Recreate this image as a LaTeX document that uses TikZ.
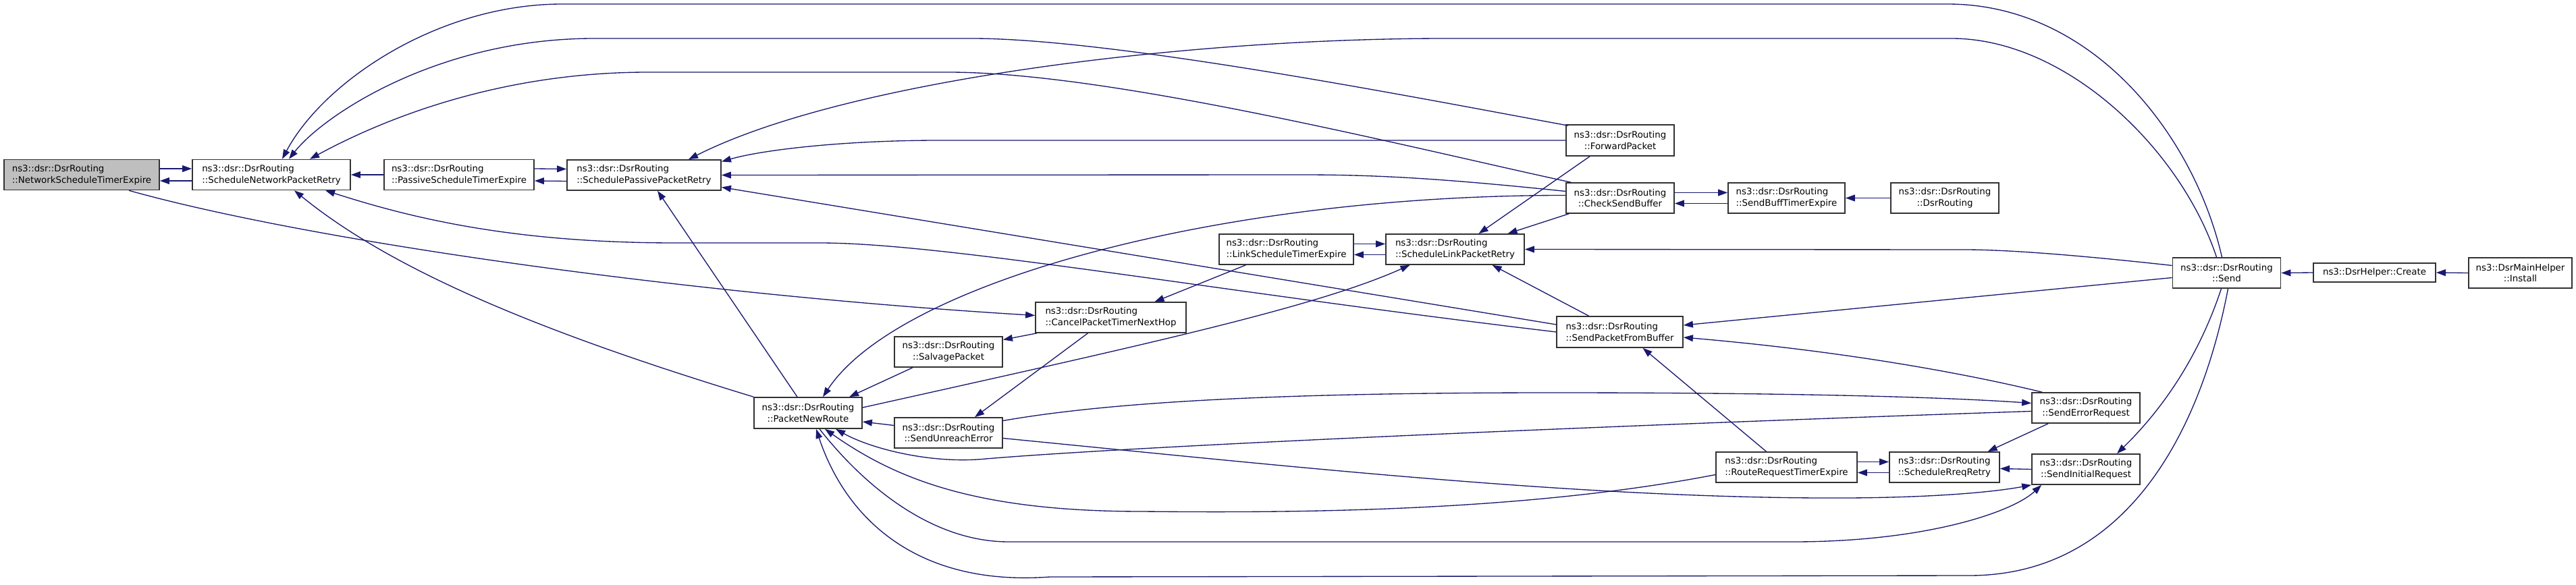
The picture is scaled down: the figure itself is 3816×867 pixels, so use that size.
\documentclass[tikz,border=0pt]{standalone}
\usepackage{fontspec}
\usepackage{tikz}
\usetikzlibrary{arrows.meta,calc}
\newfontfamily\dxfont{DejaVu Sans}
\definecolor{dxEdge}{RGB}{25,25,112}
\definecolor{dxBorder}{RGB}{50,50,50}
\definecolor{dxGray}{RGB}{191,191,191}

\begin{document}
\begin{tikzpicture}[x=0.01cm, y=-0.01cm,
  fn/.style={draw=dxBorder, line width=0.45pt, fill=white, align=center, inner sep=1pt,
    font=\dxfont\fontsize{3.8}{4.8}\selectfont, minimum height=0.45cm},
  fnl/.style={fn, align=left},
  calls/.style={dxEdge, line width=0.38pt, -{Triangle[length=4pt,width=2.8pt]}}]
  \useasboundingbox (0,0) rectangle (3816,867);

  % Functions, left part
  \node[fnl, fill=dxGray, minimum width=2.30cm] (nste) at (121,259) {ns3::dsr::DsrRouting\\::NetworkScheduleTimerExpire};
  \node[fnl, minimum width=2.34cm] (snpr) at (402,259) {ns3::dsr::DsrRouting\\::ScheduleNetworkPacketRetry};
  \node[fnl, minimum width=2.22cm] (pste) at (680,259) {ns3::dsr::DsrRouting\\::PassiveScheduleTimerExpire};
  \node[fnl, minimum width=2.28cm] (sppr) at (954,259.5) {ns3::dsr::DsrRouting\\::SchedulePassivePacketRetry};
  \node[fnl, minimum width=2.23cm] (cptnh) at (1645.5,470.5) {ns3::dsr::DsrRouting\\::CancelPacketTimerNextHop};
  \node[fn, minimum width=1.60cm] (salv) at (1405,521.5) {ns3::dsr::DsrRouting\\::SalvagePacket};
  \node[fn, minimum width=1.60cm, minimum height=0.46cm] (pnr) at (1197,612) {ns3::dsr::DsrRouting\\::PacketNewRoute};
  \node[fn, minimum width=1.60cm] (sue) at (1405,641.5) {ns3::dsr::DsrRouting\\::SendUnreachError};

  % Functions, middle part
  \node[fnl, minimum width=1.99cm] (lste) at (1905.5,369.5) {ns3::dsr::DsrRouting\\::LinkScheduleTimerExpire};
  \node[fnl, minimum width=2.05cm] (slpr) at (2155.5,369.5) {ns3::dsr::DsrRouting\\::ScheduleLinkPacketRetry};
  \node[fn, minimum width=1.60cm, minimum height=0.46cm] (fwd) at (2400,208) {ns3::dsr::DsrRouting\\::ForwardPacket};
  \node[fn, minimum width=1.60cm] (csb) at (2400,293.5) {ns3::dsr::DsrRouting\\::CheckSendBuffer};
  \node[fnl, minimum width=1.73cm] (sbte) at (2646.5,293.5) {ns3::dsr::DsrRouting\\::SendBuffTimerExpire};
  \node[fn, minimum width=1.60cm] (ctor) at (2881,293.5) {ns3::dsr::DsrRouting\\::DsrRouting};
  \node[fnl, minimum width=1.87cm, minimum height=0.46cm] (spfb) at (2399.5,492) {ns3::dsr::DsrRouting\\::SendPacketFromBuffer};

  % Functions, right part
  \node[fn, minimum width=1.60cm] (ser) at (3090,604.5) {ns3::dsr::DsrRouting\\::SendErrorRequest};
  \node[fnl, minimum width=2.09cm] (rrte) at (2646.5,692.5) {ns3::dsr::DsrRouting\\::RouteRequestTimerExpire};
  \node[fnl, minimum width=1.63cm] (srr) at (2880.5,692.5) {ns3::dsr::DsrRouting\\::ScheduleRreqRetry};
  \node[fn, minimum width=1.60cm] (sir) at (3090,695.5) {ns3::dsr::DsrRouting\\::SendInitialRequest};
  \node[fn, minimum width=1.60cm] (send) at (3298.5,404.5) {ns3::dsr::DsrRouting\\::Send};
  \node[fn, minimum width=1.81cm, minimum height=0.28cm] (create) at (3517.5,404) {ns3::DsrHelper::Create};
  \node[fn, minimum width=1.53cm] (install) at (3733.5,404.5) {ns3::DsrMainHelper\\::Install};

  % Straight pairs
  \draw[calls] ($(nste.east)+(0,-9)$) -- ($(snpr.west)+(0,-9)$);
  \draw[calls] ($(snpr.west)+(0,9)$) -- ($(nste.east)+(0,9)$);
  \draw[calls] (pste.west) -- (snpr.east);
  \draw[calls] ($(pste.east)+(0,-9)$) -- ($(sppr.west)+(0,-9)$);
  \draw[calls] ($(sppr.west)+(0,9)$) -- ($(pste.east)+(0,9)$);
  \draw[calls] ($(lste.east)+(0,-8)$) -- ($(slpr.west)+(0,-8)$);
  \draw[calls] ($(slpr.west)+(0,8)$) -- ($(lste.east)+(0,8)$);
  \draw[calls] ($(csb.east)+(0,-8)$) -- ($(sbte.west)+(0,-8)$);
  \draw[calls] ($(sbte.west)+(0,8)$) -- ($(csb.east)+(0,8)$);
  \draw[calls] (ctor.west) -- (sbte.east);
  \draw[calls] ($(rrte.east)+(0,-8)$) -- ($(srr.west)+(0,-8)$);
  \draw[calls] ($(srr.west)+(0,8)$) -- ($(rrte.east)+(0,8)$);
  \draw[calls] (sir.west) -- ($(srr.east)+(0,2)$);
  \draw[calls] (create.west) -- (send.east);
  \draw[calls] (install.west) -- (create.east);

  % Long curves over the top
  \draw[calls] ($(send.north)+(-7,0)$) .. controls (3250,200) and (3100,6) .. (2885,6) -- (833,6)
    .. controls (650,6) and (480,120) .. ($(snpr.north)+(16,0)$);
  \draw[calls] ($(fwd.north west)+(4,2)$) .. controls (2100,145) and (1650,57) .. (1440,57) -- (880,57)
    .. controls (650,57) and (480,170) .. ($(snpr.north)+(26,0)$);
  \draw[calls] ($(csb.north west)+(8,0)$) .. controls (2098,221) and (1650,107) .. (1405,107) -- (960,107)
    .. controls (750,107) and (580,170) .. ($(snpr.north)+(57,0)$);
  \draw[calls] ($(send.north)+(-15,0)$) .. controls (3230,220) and (3060,57) .. (2891,57) -- (2142,57)
    .. controls (1750,57) and (1250,120) .. ($(sppr.north)+(66,0)$);
  \draw[calls] (fwd.west) -- (1391,208) .. controls (1250,208) and (1130,222) .. ($(sppr.east)+(0,-20)$);
  \draw[calls] ($(csb.west)+(0,-10)$) .. controls (2150,266) and (2050,259) .. (1930,259) -- (sppr.east);

  % Middle band
  \draw[calls] (nste.south) ++(70,0) .. controls (450,355) and (1000,435) .. ($(cptnh.west)+(0,-3)$);
  \draw[calls] ($(spfb.west)+(0,-11)$) -- ($(sppr.east)+(0,18)$);
  \draw[calls] (spfb.west) .. controls (1800,432) and (1400,360) .. (1214,360) -- (1000,360)
    .. controls (750,360) and (600,320) .. ($(snpr.south)+(80,0)$);
  \draw[calls] ($(pnr.north)+(-16,0)$) -- ($(sppr.south)+(20,0)$);
  \draw[calls] (pnr.north west) .. controls (817,497) and (586,405) .. ($(snpr.south)+(34,0)$);
  \draw[calls] ($(cptnh.south west)+(3,0)$) -- ($(salv.east)+(0,-18)$);
  \draw[calls] ($(cptnh.south)+(-34,0)$) -- ($(sue.north)+(39,0)$);
  \draw[calls] ($(salv.south)+(-53,0)$) -- ($(pnr.north)+(61,0)$);
  \draw[calls] ($(sue.west)+(0,-11)$) -- ($(pnr.east)+(0,13)$);
  \draw[calls] ($(csb.west)+(0,-4)$) .. controls (1800,289) and (1330,420) .. ($(pnr.north)+(22,0)$);
  \draw[calls] ($(pnr.east)+(0,-8)$) .. controls (1700,510) and (1950,455) .. ($(slpr.south)+(-67,0)$);
  \draw[calls] ($(lste.south)+(-60,0)$) -- ($(cptnh.north)+(65,0)$);
  \draw[calls] ($(fwd.south)+(-45,0)$) -- ($(slpr.north)+(35,0)$);
  \draw[calls] ($(csb.south west)+(5,0)$) -- ($(slpr.north)+(78,0)$);
  \draw[calls] ($(send.west)+(0,-11)$) .. controls (3050,375) and (2960,370) .. (2910,370) -- (slpr.east);
  \draw[calls] ($(spfb.north)+(-46,0)$) -- ($(slpr.south)+(55,0)$);
  \draw[calls] ($(send.west)+(0,7)$) -- ($(spfb.east)+(0,-10)$);
  \draw[calls] ($(ser.north west)+(16,0)$) .. controls (2930,558) and (2750,522) .. ($(spfb.east)+(0,8)$);
  \draw[calls] ($(rrte.north)+(-30,0)$) -- ($(spfb.south)+(34,0)$);
  \draw[calls] ($(send.south)+(-8,0)$) .. controls (3260,520) and (3210,600) .. ($(sir.north)+(46,0)$);
  \draw[calls] ($(ser.south west)+(25,0)$) -- ($(srr.north)+(64,0)$);

  % Lower band
  \draw[calls] ($(sue.east)+(0,-18)$) .. controls (1650,595) and (1900,582) .. (2300,582)
    .. controls (2700,582) and (2900,590) .. ($(ser.west)+(0,-7)$);
  \draw[calls] ($(sue.east)+(0,8)$) .. controls (1900,690) and (2350,740) .. (2739,738)
    .. controls (2880,737) and (2960,728) .. (sir.south west);
  \draw[calls] ($(ser.west)+(0,5)$) .. controls (2400,630) and (1700,660) .. (1460,680)
    .. controls (1380,688) and (1290,665) .. ($(pnr.south)+(41,0)$);
  \draw[calls] ($(rrte.west)+(0,11)$) .. controls (2250,760) and (1900,760) .. (1693,758)
    .. controls (1450,758) and (1330,712) .. ($(pnr.south)+(25,0)$);
  \draw[calls] ($(pnr.south)+(17,0)$) .. controls (1280,720) and (1380,803) .. (1494,803) -- (2656,803)
    .. controls (2850,803) and (2980,760) .. ($(sir.south west)+(15,0)$);
  \draw[calls] ($(send.south)+(2,0)$) .. controls (3260,640) and (3150,853) .. (2917,853) -- (1555,855)
    .. controls (1350,870) and (1250,760) .. ($(pnr.south)+(12,0)$);
\end{tikzpicture}
\end{document}
